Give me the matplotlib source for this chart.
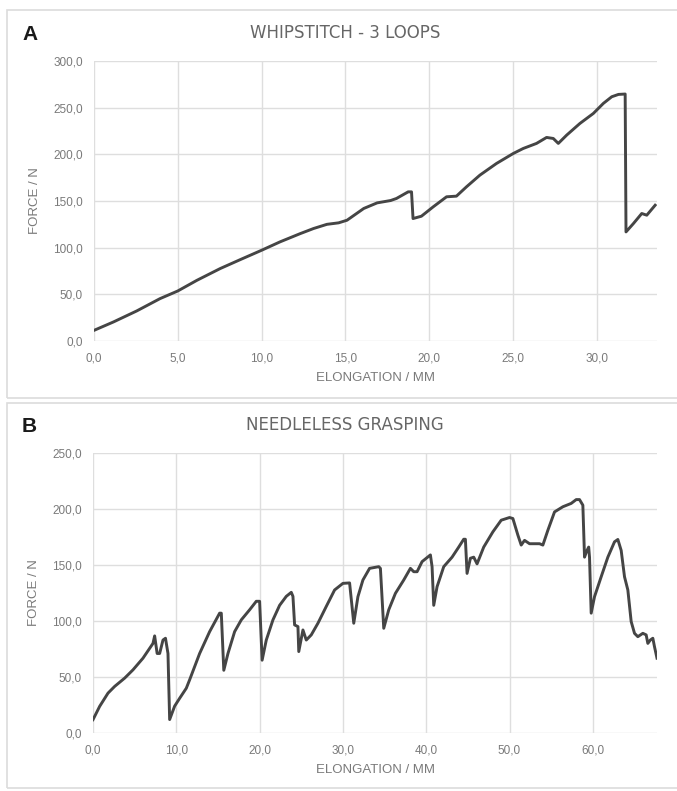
import matplotlib
matplotlib.use("Agg")
import matplotlib.pyplot as plt
from matplotlib.ticker import FuncFormatter, MultipleLocator
from matplotlib.patches import Rectangle

plt.rcParams['font.family'] = ['Liberation Sans', 'DejaVu Sans']

# panel A - whipstitch, 3 loops
whip_x = [0.0, 1.16, 2.55, 3.94, 5.0, 6.14, 7.53, 8.73, 10.0, 11.1, 12.3, 13.1, 13.9,
          14.6, 15.1, 16.1, 16.9, 17.7, 18.05, 18.75, 18.95, 19.04, 19.54, 20.24, 21.04,
          21.63, 22.23, 23.03, 24.02, 25.02, 25.62, 26.41, 27.01, 27.41, 27.71, 28.21,
          29.0, 29.8, 30.4, 30.9, 31.3, 31.7, 31.75, 32.19, 32.69, 32.99, 33.49]
whip_f = [11.4, 20.4, 32.2, 45.4, 53.6, 65.0, 77.6, 87.2, 97.2, 106.2, 115.0, 120.5, 125.0,
          126.6, 129.4, 142.0, 148.0, 150.5, 152.7, 159.8, 159.8, 131.2, 133.7, 143.7, 154.5,
          155.2, 165.2, 177.7, 190.2, 200.9, 206.3, 211.7, 218.1, 217.0, 211.7, 220.6,
          233.1, 243.8, 254.6, 261.7, 264.2, 264.6, 116.9, 125.8, 136.6, 134.8, 145.5]

# panel B - needleless grasping
grasp_x = [0.0, 0.8, 1.8, 2.6, 3.8, 4.8, 6.0, 7.2, 7.4, 7.7, 8.0, 8.4, 8.7, 9.0, 9.2,
           9.8, 10.4, 11.2, 11.6, 12.8, 14.0, 15.2, 15.4, 15.7, 16.2, 17.0, 17.8, 18.8,
           19.6, 20.0, 20.3, 20.8, 21.6, 22.4, 23.2, 23.8, 24.0, 24.2, 24.6, 24.7, 25.2,
           25.6, 26.2, 27.0, 28.0, 29.0, 30.0, 30.8, 31.3, 31.8, 32.4, 33.2, 34.3, 34.5,
           34.9, 35.5, 36.3, 37.3, 38.1, 38.5, 38.9, 39.5, 40.5, 40.7, 40.9, 41.3, 42.1,
           43.1, 43.9, 44.5, 44.7, 44.9, 45.3, 45.7, 46.1, 46.9, 48.0, 49.0, 50.0, 50.4,
           51.0, 51.4, 51.8, 52.4, 53.6, 54.0, 54.6, 55.4, 56.4, 57.4, 58.0, 58.4, 58.8,
           59.0, 59.3, 59.5, 59.6, 59.8, 60.2, 61.0, 61.8, 62.6, 63.0, 63.4, 63.8, 64.2,
           64.6, 65.0, 65.4, 66.0, 66.4, 66.6, 66.9, 67.2, 67.4, 67.7]
grasp_f = [11.9, 23.8, 35.6, 41.6, 49.0, 56.4, 66.8, 80.0, 86.7, 71.0, 71.0, 83.0, 84.6,
           71.0, 12.0, 24.0, 31.0, 40.0, 47.5, 71.0, 90.5, 107.0, 107.0, 56.0, 71.0, 90.5,
           101.0, 110.0, 117.6, 117.6, 65.0, 83.0, 101.0, 114.0, 122.0, 125.6, 122.0, 96.5,
           95.0, 72.7, 92.0, 83.0, 87.6, 98.0, 113.0, 127.7, 133.6, 134.0, 98.0, 121.7,
           136.6, 147.0, 148.5, 147.0, 93.5, 110.0, 124.7, 136.6, 147.0, 144.0, 144.0,
           153.0, 159.0, 148.5, 114.0, 130.6, 148.5, 157.0, 166.0, 173.0, 173.0, 142.5,
           156.0, 157.0, 151.0, 166.0, 179.6, 190.0, 192.4, 191.5, 176.7, 167.8, 172.0,
           169.0, 169.0, 167.8, 181.0, 197.4, 202.0, 205.0, 208.4, 208.4, 203.4, 157.0,
           163.0, 166.0, 157.0, 107.0, 121.7, 139.5, 157.0, 170.7, 172.8, 163.0, 139.5,
           127.7, 99.5, 89.0, 86.0, 89.0, 87.6, 80.0, 83.0, 84.6, 77.0, 66.8]

W, H = 677, 791
fig = plt.figure(figsize=(W / 100, H / 100), dpi=100)

def fx(px):
    return px / W

def fy(py):
    return 1 - py / H

# light frames round each panel
for top, bottom in [(10, 398), (403, 788)]:
    fig.patches.append(Rectangle((fx(7), fy(bottom)), fx(700) - fx(7), fy(top) - fy(bottom),
                                 transform=fig.transFigure, fill=False,
                                 edgecolor='#dcdcdc', linewidth=1.2))

comma = FuncFormatter(lambda v, pos: f"{v:.1f}".replace('.', ','))
grey = '#7a7a7a'

def make_panel(rect, x, f, xmax, ymax, xstep, ystep):
    ax = fig.add_axes(rect)
    ax.plot(x, f, color='#454545', linewidth=2.1, solid_joinstyle='round')
    ax.set_xlim(0, xmax)
    ax.set_ylim(0, ymax)
    ax.xaxis.set_major_locator(MultipleLocator(xstep))
    ax.yaxis.set_major_locator(MultipleLocator(ystep))
    ax.xaxis.set_major_formatter(comma)
    ax.yaxis.set_major_formatter(comma)
    ax.grid(True, color='#dedede', linewidth=1.0)
    ax.set_axisbelow(True)
    for s in ax.spines.values():
        s.set_visible(False)
    ax.tick_params(length=0, labelsize=8.5, labelcolor=grey)
    ax.tick_params(axis='x', pad=8)
    ax.tick_params(axis='y', pad=8)
    ax.set_xlabel('ELONGATION / MM', fontsize=9.5, color=grey, va='center')
    ax.set_ylabel('FORCE / N', fontsize=9.5, color=grey, va='center')
    ax.xaxis.set_label_coords(0.5, -0.132)
    ax.yaxis.set_label_coords(-0.105, 0.5)
    return ax

axA = make_panel([fx(94), fy(341), fx(657) - fx(94), fy(61) - fy(341)],
                 whip_x, whip_f, 33.6, 300, 5, 50)
axB = make_panel([fx(93), fy(733), fx(657) - fx(93), fy(453) - fy(733)],
                 grasp_x, grasp_f, 67.7, 250, 10, 50)

fig.text(fx(345), fy(33), 'WHIPSTITCH - 3 LOOPS', ha='center', va='center',
         fontsize=12, color='#666666', family='DejaVu Sans')
fig.text(fx(345), fy(425), 'NEEDLELESS GRASPING', ha='center', va='center',
         fontsize=12, color='#666666', family='DejaVu Sans')
fig.text(fx(22), fy(35), 'A', ha='left', va='center', fontsize=15,
         fontweight='bold', color='#1a1a1a')
fig.text(fx(22), fy(427), 'B', ha='left', va='center', fontsize=15,
         fontweight='bold', color='#1a1a1a')

fig.savefig('out.png', dpi=100)
